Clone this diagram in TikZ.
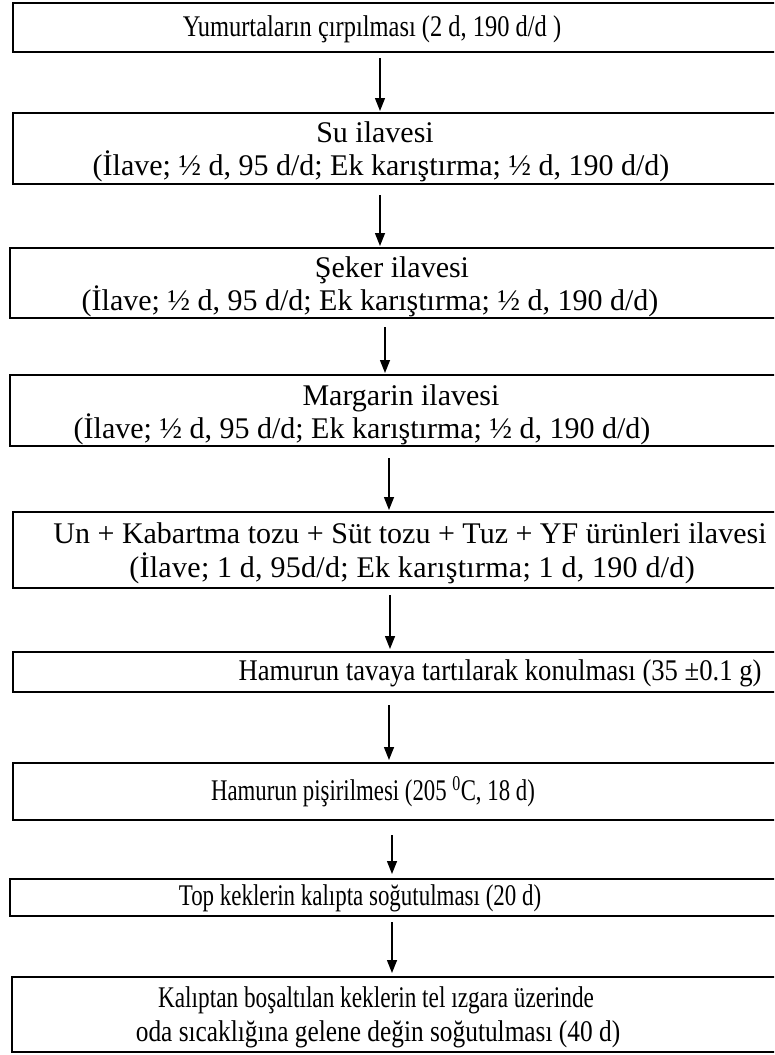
\documentclass[tikz,border=0pt]{standalone}
\usepackage{graphicx}
\usepackage{fontspec}
\setmainfont{Liberation Serif}
\usetikzlibrary{arrows.meta}
\newcommand{\ls}[1]{\addfontfeatures{LetterSpace=#1}}
\newcommand{\sq}[2]{\scalebox{#1}[1]{#2}}
\begin{document}
\begin{tikzpicture}[x=1pt,y=-1pt,
  stepbox/.style={draw, line width=2.4pt, inner sep=0pt, outer sep=0pt, minimum width=790pt},
  txt/.style={inner sep=0pt, anchor=base, font=\fontsize{30}{34}\selectfont},
  arr/.style={line width=1.4pt, -{Triangle[length=13pt,width=10pt]}}
]
\useasboundingbox (0,0) rectangle (774,1055);
\clip (0,0) rectangle (774,1055);
% boxes (left edge + 395 = center, width 790)
\node[stepbox, minimum height=49pt] (b1) at (408,27.5) {};
\node[stepbox, minimum height=71pt] (b2) at (408,148.5) {};
\node[stepbox, minimum height=70pt] (b3) at (405,283) {};
\node[stepbox, minimum height=71pt] (b4) at (405,410.5) {};
\node[stepbox, minimum height=76pt] (b5) at (408,550) {};
\node[stepbox, minimum height=40pt] (b6) at (408,672) {};
\node[stepbox, minimum height=57pt] (b7) at (408,791.5) {};
\node[stepbox, minimum height=37pt] (b8) at (405,897.5) {};
\node[stepbox, minimum height=75pt] (b9) at (407,1014.5) {};
% texts
\node[txt] (t1) at (372,36) {\sq{0.815}{Yumurtaların çırpılması (2 d, 190 d/d )}};
\node[txt] (t2a) at (375,142) {Su ilavesi};
\node[txt] (t2b) at (381,175) {(İlave; ½ d, 95 d/d; Ek karıştırma; ½ d, 190 d/d)};
\node[txt] (t3a) at (392,277) {Şeker ilavesi};
\node[txt] (t3b) at (370,310) {(İlave; ½ d, 95 d/d; Ek karıştırma; ½ d, 190 d/d)};
\node[txt] (t4a) at (401,405) {Margarin ilavesi};
\node[txt] (t4b) at (362,438) {(İlave; ½ d, 95 d/d; Ek karıştırma; ½ d, 190 d/d)};
\node[txt] (t5a) at (410,543) {Un + Kabartma tozu + Süt tozu + Tuz + YF ürünleri ilavesi};
\node[txt] (t5b) at (412,577) {\ls{1}(İlave; 1 d, 95d/d; Ek karıştırma; 1 d, 190 d/d)};
\node[txt] (t6) at (500,680) {\sq{0.888}{Hamurun tavaya tartılarak konulması (35 ±0.1 g)}};
\node[txt] (t7) at (373,800) {\sq{0.76}{Hamurun pişirilmesi (205 \textsuperscript{0}C, 18 d)}};
\node[txt] (t8) at (360,905) {\sq{0.765}{Top keklerin kalıpta soğutulması (20 d)}};
\node[txt] (t9a) at (376,1007) {\sq{0.775}{Kalıptan boşaltılan keklerin tel ızgara üzerinde}};
\node[txt] (t9b) at (378,1041) {\sq{0.845}{oda sıcaklığına gelene değin soğutulması (40 d)}};
% arrows
\draw[arr, shorten <=6pt, shorten >=2pt] (b1.south -| 380,0) -- (b2.north -| 380,0);
\draw[arr, shorten <=11pt, shorten >=2pt] (b2.south -| 380,0) -- (b3.north -| 380,0);
\draw[arr, shorten <=9pt, shorten >=2pt] (b3.south -| 385,0) -- (b4.north -| 385,0);
\draw[arr, shorten <=12pt, shorten >=2pt] (b4.south -| 389,0) -- (b5.north -| 389,0);
\draw[arr, shorten <=7pt, shorten >=3pt] (b5.south -| 390,0) -- (b6.north -| 390,0);
\draw[arr, shorten <=13pt, shorten >=3pt] (b6.south -| 389,0) -- (b7.north -| 389,0);
\draw[arr, shorten <=15pt, shorten >=5pt] (b7.south -| 392,0) -- (b8.north -| 392,0);
\draw[arr, shorten <=6pt, shorten >=4pt] (b8.south -| 392,0) -- (b9.north -| 392,0);
\end{tikzpicture}
\end{document}
